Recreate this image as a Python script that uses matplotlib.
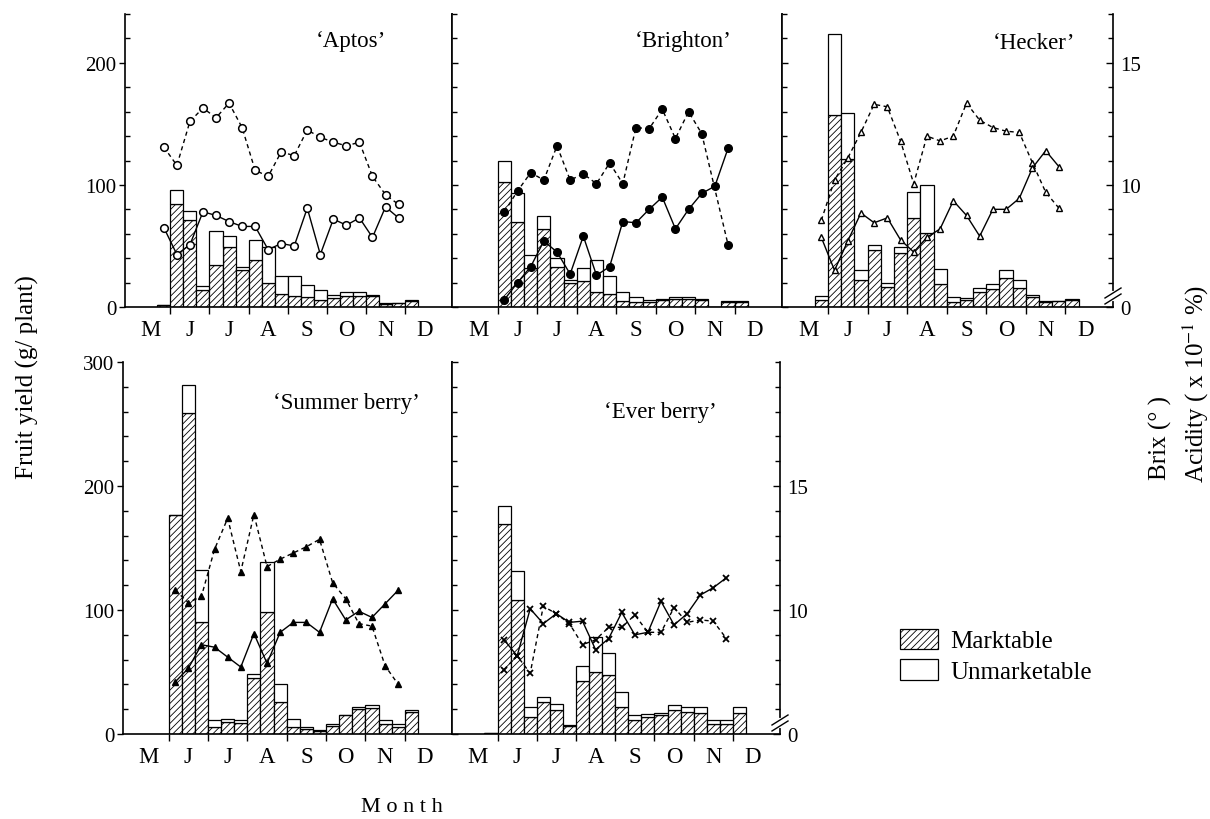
import numpy as np
import matplotlib
matplotlib.use("Agg")
import matplotlib.pyplot as plt
from matplotlib.patches import Patch
from matplotlib.ticker import MultipleLocator, FixedLocator, FixedFormatter, NullFormatter

plt.rcParams["font.family"] = ["Liberation Serif", "DejaVu Serif"]
plt.rcParams["mathtext.fontset"] = "stix"
plt.rcParams["hatch.linewidth"] = 0.6

months = ["M", "J", "J", "A", "S", "O", "N", "D"]

# 10-day periods counted from 1 May (0 = early May, 3 = early June ...)
# bars: marketable yield and total yield (g/plant); lines: Brix / acidity (right axis)
aptos_bar_periods = list(range(2, 22))
aptos_market = [2, 84, 71.5, 14, 34.5, 49, 30, 38.5, 20, 11, 9, 8, 6, 7, 9, 9, 9, 2.5, 3, 5]
aptos_total = [2, 95.5, 78.5, 17, 62.5, 58, 33, 54.5, 49, 25, 25, 18, 14, 10, 12, 12, 10, 3, 3.5, 6]
aptos_dash_periods = list(range(2, 21))
aptos_dashed = [11.55, 10.8, 12.6, 13.15, 12.75, 13.35, 12.35, 10.6, 10.35, 11.35, 11.2, 12.25,
                11.95, 11.75, 11.6, 11.75, 10.35, 9.6, 9.2]
aptos_solid_periods = list(range(2, 21))
aptos_solid = [8.25, 7.15, 7.55, 8.9, 8.75, 8.5, 8.3, 8.3, 7.35, 7.6, 7.5, 9.05, 7.15, 8.6, 8.35,
               8.65, 7.85, 9.1, 8.65]

brighton_bar_periods = list(range(3, 22))
brighton_market = [102, 70, 32, 64, 32.5, 20, 21, 12, 11, 5, 4, 4, 6, 6.5, 6.5, 6, 0, 4, 4]
brighton_total = [119.5, 93, 43, 74.5, 40, 22.5, 32, 38.5, 25, 12, 8, 6, 6.5, 8.5, 8, 6.5, 0, 5, 5]
brighton_dash_periods = list(range(3, 19)) + [20]
brighton_dashed = [8.9, 9.75, 10.5, 10.2, 11.6, 10.2, 10.45, 10.05, 10.9, 10.05, 12.35, 12.3, 13.1,
                   11.9, 13.0, 12.1, 7.55]
brighton_solid_periods = list(range(3, 21))
brighton_solid = [5.3, 6.0, 6.65, 7.7, 7.25, 6.35, 7.9, 6.3, 6.65, 8.5, 8.45, 9.0, 9.5, 8.2, 9.0,
                  9.65, 9.95, 11.5]

hecker_bar_periods = list(range(2, 22))
hecker_market = [6, 157, 121, 22, 46.5, 16.5, 44, 73, 61, 19, 4, 6, 12, 14.5, 24, 15.5, 8, 4, 5, 6]
hecker_total = [9, 223.5, 158.5, 30, 51, 20, 49, 94, 100, 31.5, 8.5, 7.5, 15.5, 19, 30.5, 22, 10, 5, 5, 6.5]
hecker_dash_periods = list(range(2, 21))
hecker_dashed = [8.55, 10.2, 11.1, 12.15, 13.3, 13.2, 11.8, 10.05, 12.0, 11.8, 12.0, 13.35, 12.65,
                 12.35, 12.2, 12.15, 10.9, 9.7, 9.05]
hecker_solid_periods = list(range(2, 21))
hecker_solid = [7.85, 6.5, 7.7, 8.85, 8.45, 8.65, 7.75, 7.25, 7.85, 8.2, 9.35, 8.75, 7.9, 9.0, 9.0,
                9.45, 10.7, 11.4, 10.75]

summer_bar_periods = list(range(3, 22))
summer_market = [176.5, 259, 90.5, 5.5, 10, 8.5, 45, 98.5, 25.5, 6, 4, 2.5, 6.5, 15, 20.5, 21, 8, 6, 18]
summer_total = [176.5, 281.5, 132.5, 11.5, 12, 11, 48.5, 139, 40.5, 12.5, 6, 3, 8, 15.5, 22, 23, 11, 8, 19.5]
summer_dash_periods = list(range(3, 21))
summer_dashed = [10.8, 10.3, 10.55, 12.45, 13.7, 11.55, 13.85, 11.75, 12.05, 12.3, 12.55, 12.85,
                 11.1, 10.45, 9.45, 9.35, 7.75, 7.0]
summer_solid_periods = list(range(3, 21))
summer_solid = [7.1, 7.65, 8.6, 8.5, 8.1, 7.7, 9.05, 7.85, 9.1, 9.5, 9.5, 9.1, 10.45, 9.6, 9.95,
                9.7, 10.25, 10.8]

ever_bar_periods = list(range(2, 22))
ever_market = [1, 169.5, 108, 14, 26, 19, 6.5, 42.5, 50, 47.5, 21.5, 11.5, 13.5, 15.5, 19, 18, 17, 8, 8, 17]
ever_total = [1, 184, 131.5, 22, 29.5, 24, 7.5, 54.5, 78.5, 65.5, 33.5, 15.5, 16.5, 17, 23.5, 21.5, 22, 11, 11, 21.5]
ever_dash_periods = list(range(3, 21))
ever_dashed = [7.6, 8.15, 7.45, 10.15, 9.85, 9.45, 8.6, 8.8, 9.3, 9.3, 9.8, 9.1, 9.1, 10.1, 9.5,
               9.6, 9.55, 8.85]
ever_solid_periods = list(range(3, 21))
ever_solid = [8.8, 8.15, 10.05, 9.45, 9.85, 9.5, 9.55, 8.4, 8.85, 9.9, 9.0, 9.1, 10.35, 9.4, 9.85,
              10.6, 10.9, 11.3]

W, H = 1210, 820


def px_rect(left, top, right, bottom):
    return [left / W, 1 - bottom / H, (right - left) / W, (bottom - top) / H]


def add_break(ax, y_px=11):
    # "//" break mark on the right axis near the base line
    pos = ax.get_position()
    h_px, w_px = pos.height * H, pos.width * W
    y0 = y_px / h_px
    dx, dy, gap = 8 / w_px, 5 / h_px, 3 / h_px
    ax.plot([1, 1], [y0 - gap, y0 + gap], color="white", lw=3, transform=ax.transAxes,
            clip_on=False, zorder=5)
    for off in (-gap, gap):
        ax.plot([1 - dx, 1 + dx], [y0 + off - dy, y0 + off + dy], color="black", lw=1,
                transform=ax.transAxes, clip_on=False, zorder=6)


def draw_panel(rect, title, title_xy, ymax, bars, dashed, solid, mstyle, first_col, last_col):
    ax = fig.add_axes(rect)
    periods, market, total = bars
    x = np.array(periods) / 3
    market = np.array(market)
    unmarket = np.array(total) - market
    ax.bar(x, market, width=1 / 3, align="edge", facecolor="white", edgecolor="black",
           hatch="/////", linewidth=0.9)
    ax.bar(x, unmarket, bottom=market, width=1 / 3, align="edge", facecolor="white",
           edgecolor="black", linewidth=0.9)

    ax.set_xlim(-0.16, 8.2)
    ax.set_ylim(0, ymax)
    ax.spines["top"].set_visible(False)
    for s in ("left", "right", "bottom"):
        ax.spines[s].set_linewidth(1.2)

    ax.xaxis.set_major_locator(FixedLocator(range(1, 8)))
    ax.xaxis.set_major_formatter(NullFormatter())
    ax.xaxis.set_minor_locator(FixedLocator(np.arange(8) + 0.5))
    ax.xaxis.set_minor_formatter(FixedFormatter(months))
    ax.tick_params(axis="x", which="major", direction="out", length=5, width=1)
    ax.tick_params(axis="x", which="minor", length=0, pad=9, labelsize=16.5)

    ax.yaxis.set_major_locator(MultipleLocator(100))
    ax.yaxis.set_minor_locator(MultipleLocator(20))
    ax.tick_params(axis="y", which="minor", direction="in", length=3.5, width=1)
    if first_col:
        ax.tick_params(axis="y", which="major", direction="out", length=4, width=1,
                       labelsize=15, pad=2)
    else:
        ax.tick_params(axis="y", which="major", direction="in", length=4, width=1,
                       labelleft=False)

    tw = ax.twinx()
    tw.set_ylim(5, 5 + ymax / 20)
    for s in tw.spines.values():
        s.set_visible(False)
    mfc = mstyle.pop("mfc")
    tw.plot(np.array(dashed[0]) / 3 + 1 / 6, dashed[1], color="black", lw=1.0,
            linestyle=(0, (3, 2.5)), mfc=mfc, mec="black", **mstyle)
    tw.plot(np.array(solid[0]) / 3 + 1 / 6, solid[1], color="black", lw=1.0,
            linestyle="-", mfc=mfc, mec="black", **mstyle)
    if last_col:
        tw.yaxis.set_major_locator(FixedLocator([5, 10, 15]))
        tw.yaxis.set_major_formatter(FixedFormatter(["0", "10", "15"]))
        tw.yaxis.set_minor_locator(MultipleLocator(1))
        tw.tick_params(axis="y", which="both", direction="in", width=1, labelsize=15, pad=5)
        tw.tick_params(axis="y", which="major", length=5)
        tw.tick_params(axis="y", which="minor", length=3.5)
        add_break(ax)
    else:
        tw.set_yticks([])

    ax.text(title_xy[0], title_xy[1], title, transform=ax.transAxes, ha="center",
            va="center", fontsize=16.5)
    return ax


fig = plt.figure(figsize=(12.1, 8.2), dpi=100)

draw_panel(px_rect(125, 15, 452, 308), "\u2018Aptos\u2019", (0.69, 0.908), 240,
           (aptos_bar_periods, aptos_market, aptos_total),
           (aptos_dash_periods, aptos_dashed), (aptos_solid_periods, aptos_solid),
           dict(marker="o", ms=5.5, mfc="white", mew=1.1), True, False)
draw_panel(px_rect(452, 15, 782, 308), "\u2018Brighton\u2019", (0.70, 0.908), 240,
           (brighton_bar_periods, brighton_market, brighton_total),
           (brighton_dash_periods, brighton_dashed), (brighton_solid_periods, brighton_solid),
           dict(marker="o", ms=5.5, mfc="black", mew=1.0), False, False)
draw_panel(px_rect(782, 15, 1113, 308), "\u2018Hecker\u2019", (0.76, 0.904), 240,
           (hecker_bar_periods, hecker_market, hecker_total),
           (hecker_dash_periods, hecker_dashed), (hecker_solid_periods, hecker_solid),
           dict(marker="^", ms=5, mfc="white", mew=1.0), False, True)
draw_panel(px_rect(123, 363, 452, 735), "\u2018Summer berry\u2019", (0.68, 0.892), 300,
           (summer_bar_periods, summer_market, summer_total),
           (summer_dash_periods, summer_dashed), (summer_solid_periods, summer_solid),
           dict(marker="^", ms=5, mfc="black", mew=1.0), True, False)
draw_panel(px_rect(452, 363, 780, 735), "\u2018Ever berry\u2019", (0.634, 0.868), 300,
           (ever_bar_periods, ever_market, ever_total),
           (ever_dash_periods, ever_dashed), (ever_solid_periods, ever_solid),
           dict(marker="x", ms=4, mfc="black", mew=1.3), False, True)

handles = [Patch(facecolor="white", edgecolor="black", hatch="/////", linewidth=0.9),
           Patch(facecolor="white", edgecolor="black", linewidth=0.9)]
fig.legend(handles, ["Marktable", "Unmarketable"], loc="upper left",
           bbox_to_anchor=(883 / W, 1 - 612 / H), frameon=False, fontsize=18,
           handlelength=1.5, handleheight=0.9, handletextpad=0.5, labelspacing=0.25,
           borderpad=0.2)

fig.text(27 / W, 1 - 377 / H, "Fruit yield (g/ plant)", rotation=90, ha="center",
         va="center", fontsize=18)
fig.text(1160 / W, 1 - 480 / H, "Brix (\u00b0 )", rotation=90, ha="center", va="bottom",
         fontsize=18)
fig.text(1196 / W, 1 - 483 / H, r"Acidity ( x 10$^{-1}$ %)", rotation=90, ha="center",
         va="bottom", fontsize=18)
fig.text(402 / W, 1 - 808 / H, "M o n t h", ha="center", va="center", fontsize=16)

fig.savefig("out.png", dpi=100)
